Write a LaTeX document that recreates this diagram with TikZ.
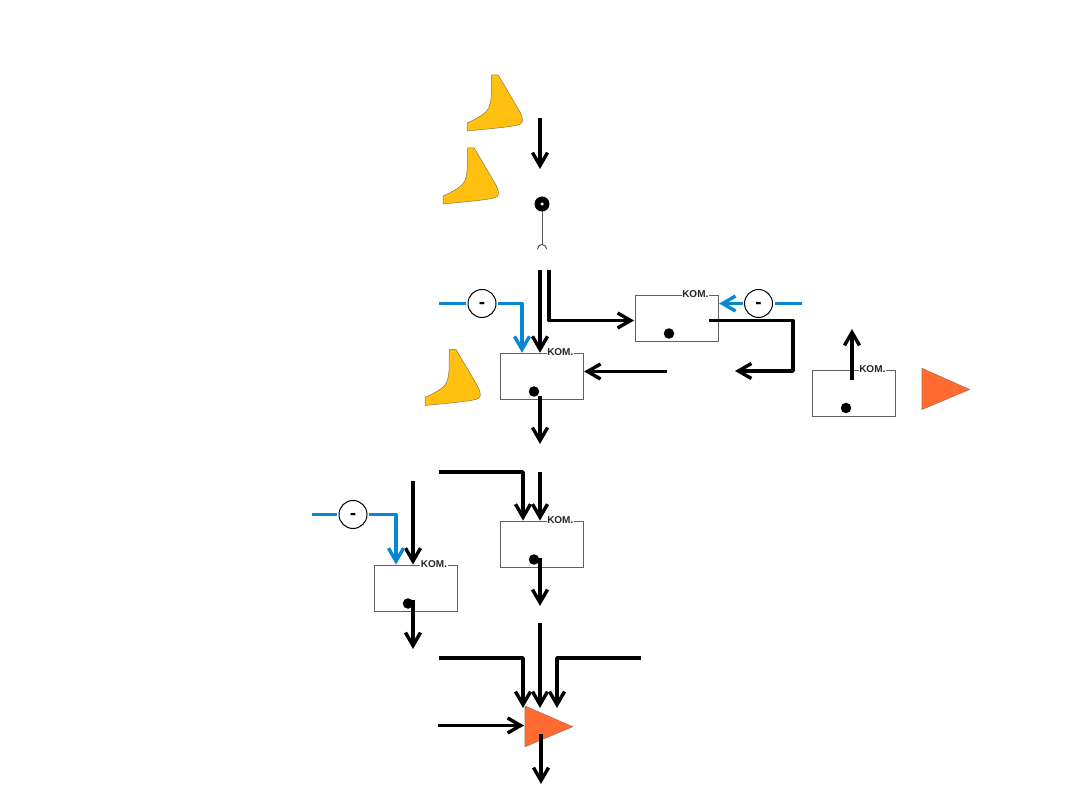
\documentclass[tikz,border=0pt]{standalone}
\usepackage{fontspec}
\setmainfont{Liberation Sans}
\usetikzlibrary{arrows.meta,calc}
\definecolor{hornc}{HTML}{FFC010}
\definecolor{hornl}{HTML}{8A7A40}
\definecolor{triac}{HTML}{FF6B30}
\definecolor{trial}{HTML}{B07050}
\definecolor{bluec}{HTML}{0787D0}
\definecolor{boxl}{HTML}{606060}
\tikzset{
  x=1pt,y=-1pt,
  blk/.style={line width=3.6pt,draw=black,line join=round},
  blu/.style={line width=3.6pt,draw=bluec,line join=round},
  arr/.style={-{Straight Barb[length=13pt,width=15pt,line width=3.4pt]}},
  kombox/.style={draw=boxl,line width=0.9pt,minimum width=83.4pt,minimum height=46.4pt,inner sep=0pt,fill=white},
  komlabel/.style={fill=white,inner sep=0.5pt,font=\bfseries\fontsize{10}{10}\selectfont,text=black!85},
  minuscirc/.style={circle,draw=black,line width=1pt,minimum size=28pt,inner sep=0pt,fill=white,font=\bfseries\fontsize{19}{19}\selectfont},
  dotc/.style={circle,fill=black,minimum size=10.5pt,inner sep=0pt},
  horn/.style={fill=hornc,draw=hornl,line width=0.5pt},
  tria/.style={fill=triac,draw=trial,line width=0.6pt},
  pics/hornshape/.style={code={
    \path[horn] (0,0) -- (6.5,0) -- (26,33) .. controls (30,40) and (33,46) .. (29,49)
      .. controls (22,52) and (-5,54) .. (-24.5,56) -- (-24.5,48)
      .. controls (-14,43) and (-6,39) .. (-3,33) .. controls (1,24) and (-1,12) .. (0,0) -- cycle;
  }}
}
\newcommand{\lowdash}{\smash{\raisebox{-5pt}{-}}}
\begin{document}
\begin{tikzpicture}
\useasboundingbox (0,0) rectangle (1080,810);
\fill[white] (0,0) rectangle (1080,810);
% horns
\pic at (491.7,75) {hornshape};
\pic at (467.7,148) {hornshape};
\pic at (449.5,349.5) {hornshape};
% triangles
\path[tria] (922,368.3) -- (969.5,389.5) -- (922,409.5) -- cycle;
\path[tria] (525,706) -- (572.7,726.7) -- (525,746.7) -- cycle;
% boxes
\node[kombox] (b1) at (542,376.4) {};
\node[kombox] (b2) at (677,318.2) {};
\node[kombox] (b3) at (854,393.2) {};
\node[kombox] (b4) at (542,544.2) {};
\node[kombox] (b5) at (416,588.2) {};
\node[komlabel] (k1) at (560.3,352.5) {KOM.};
\node[komlabel] (k2) at (695.3,294.5) {KOM.};
\node[komlabel] (k3) at (872.3,369.5) {KOM.};
\node[komlabel] (k4) at (560.3,520.5) {KOM.};
\node[komlabel] (k5) at (434,564.5) {KOM.};
\node[dotc] (d1) at (534,391.5) {};
\node[dotc] (d2) at (669,333.5) {};
\node[dotc] (d3) at (846,408) {};
\node[dotc] (d4) at (534,559.5) {};
\node[dotc] (d5) at (408,603.5) {};
% top symbol
\coordinate (cap) at (542,244);
\draw[draw=black!65,line width=1pt] (542,204) -- (cap);
\draw[draw=black!75,line width=0.9pt] (537.5,249) arc[start angle=180,end angle=360,radius=4.5];
\node[circle,fill=black,minimum size=15pt,inner sep=0pt] (ring) at (542,204) {};
\node[circle,fill=white,minimum size=3.5pt,inner sep=0pt] (ringc) at (542,204) {};
% minus circles
\node[minuscirc] (m1) at (482,303.5) {\lowdash};
\node[minuscirc] (m2) at (758.5,303.5) {\lowdash};
\node[minuscirc] (m3) at (353,514.5) {\lowdash};
% coordinates
\coordinate (a1s) at (540,118); \coordinate (a1e) at (540,169);
\coordinate (a2s) at (540,270);
\coordinate (a3s) at (549,270); \coordinate (a3c) at (549,320.5); \coordinate (a3e) at (634,320.5);
\coordinate (bl1s) at (439,303.5); \coordinate (bl1c) at (522,303.5);
\coordinate (a4s) at (667,371.5);
\coordinate (a5s) at (540,396); \coordinate (a5e) at (540,444);
\coordinate (a6s) at (709,320.5); \coordinate (a6c1) at (793,320.5); \coordinate (a6c2) at (793,371); \coordinate (a6e) at (735,371);
\coordinate (bl2s) at (802,303.5);
\coordinate (a7s) at (852,380); \coordinate (a7e) at (852,329);
\coordinate (a8s) at (439,472); \coordinate (a8c) at (523,472);
\coordinate (a9s) at (540,472);
\coordinate (a10s) at (540,558); \coordinate (a10e) at (540,606);
\coordinate (bl3s) at (312,514.5); \coordinate (bl3c) at (396,514.5);
\coordinate (a11s) at (413,481);
\coordinate (a12s) at (413,600); \coordinate (a12e) at (413,649);
\coordinate (a13s) at (540,623); \coordinate (a13e) at (540,708);
\coordinate (a14s) at (439,658); \coordinate (a14c) at (523,658); \coordinate (a14e) at (523,708);
\coordinate (a15s) at (641,658); \coordinate (a15c) at (557,658); \coordinate (a15e) at (557,708);
\coordinate (a16s) at (438,725.5); \coordinate (a16e) at (524,725.5);
\coordinate (a17s) at (541,734); \coordinate (a17e) at (541,784);
% black connectors
\draw[blk,arr] (a1s) -- (a1e);
\draw[blk,arr] (a2s) -- (a2s |- b1.north);
\draw[blk,arr] (a3s) -- (a3c) -- (a3e);
\draw[blk,arr] (a4s) -- (a4s -| b1.east);
\draw[blk,arr] (a5s) -- (a5e);
\draw[blk,arr] (a6s) -- (a6c1) -- (a6c2) -- (a6e);
\draw[blk,arr] (a7s) -- (a7e);
\draw[blk,arr] (a8s) -- (a8c) -- (a8c |- b4.north);
\draw[blk,arr] (a9s) -- (a9s |- b4.north);
\draw[blk,arr] (a10s) -- (a10e);
\draw[blk,arr] (a11s) -- (a11s |- b5.north);
\draw[blk,arr] (a12s) -- (a12e);
\draw[blk,arr] (a13s) -- (a13e);
\draw[blk,arr] (a14s) -- (a14c) -- (a14e);
\draw[blk,arr] (a15s) -- (a15c) -- (a15e);
\draw[blk,arr] (a16s) -- (a16e);
\draw[blk,arr] (a17s) -- (a17e);
% blue connectors
\draw[blu] (bl1s) -- ([xshift=-1.5pt]m1.west);
\draw[blu,arr] ([xshift=1.5pt]m1.east) -- (bl1c) -- (bl1c |- b1.north);
\draw[blu] (bl2s) -- ([xshift=1.5pt]m2.east);
\draw[blu,arr] ([xshift=-1.5pt]m2.west) -- (m2.west -| b2.east);
\draw[blu] (bl3s) -- ([xshift=-1.5pt]m3.west);
\draw[blu,arr] ([xshift=1.5pt]m3.east) -- (bl3c) -- (bl3c |- b5.north);
\end{tikzpicture}
\end{document}
